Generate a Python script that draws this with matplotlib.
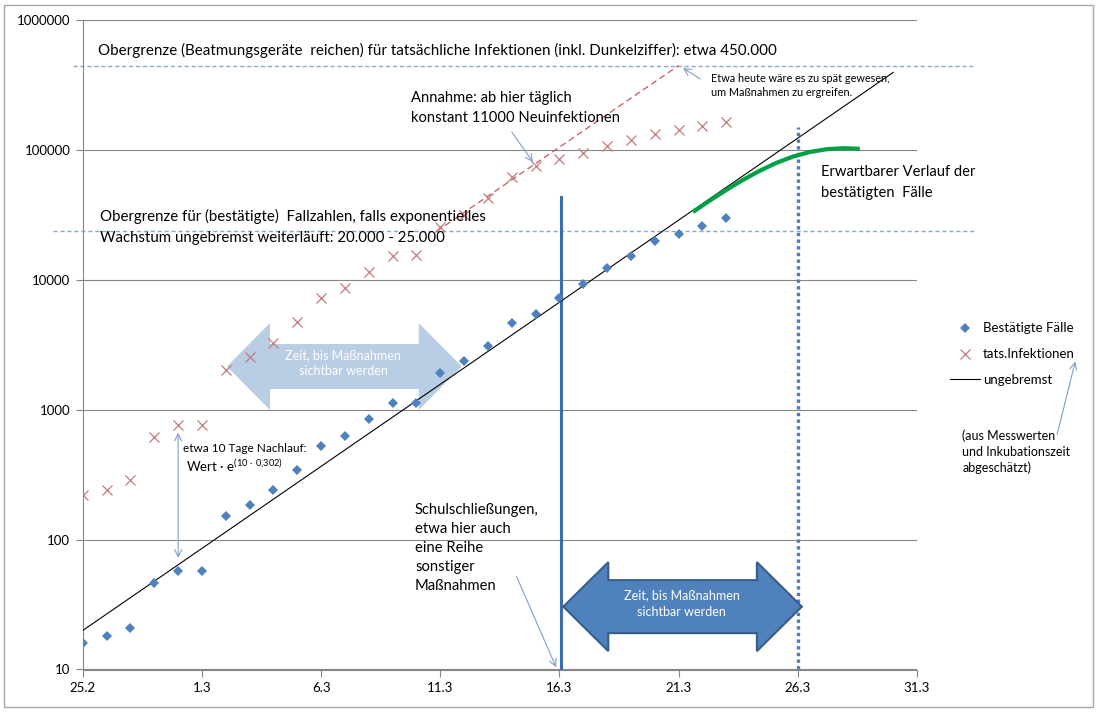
import matplotlib
matplotlib.use('Agg')
import matplotlib.pyplot as plt
from matplotlib.patches import Polygon, Rectangle

plt.rcParams['font.family'] = ['Lato', 'DejaVu Sans']
plt.rcParams['mathtext.fontset'] = 'custom'
plt.rcParams['mathtext.rm'] = 'Lato'

# x axis: days since 25.2.
tick_days = [0, 5, 10, 15, 20, 25, 30, 35]
tick_labels = ['25.2', '1.3', '6.3', '11.3', '16.3', '21.3', '26.3', '31.3']
y_ticks = [10, 100, 1000, 10000, 100000, 1000000]

days = list(range(0, 28))
confirmed = [16, 18, 21, 46, 57, 57, 151, 186, 243, 346, 531, 634, 852, 1132, 1140,
             1930, 2370, 3095, 4640, 5510, 7230, 9380, 12470, 15320, 19990, 22520, 26120, 30090]
infections = [222, 243, 286, 619, 771, 771, 2047, 2564, 3250, 4747, 7310, 8730, 11530, 15310,
              15590, 25800, 31900, 43000, 62800, 75900, 85300, 96100, 108000, 120300, 133000,
              143000, 154000, 165600]

unbraked_days = [0, 34.0]
unbraked_vals = [20, 398000]

assumed_days = [14.85, 25.0]
assumed_vals = [23800, 450000]

expected_days = [25.6, 26.3, 27.0, 27.7, 28.4, 29.1, 29.8, 30.5, 31.2, 31.9, 32.6]
expected_vals = [33500, 40900, 49500, 59200, 69500, 80000, 89500, 97000, 101900, 103800, 102800]

limit_real = 450000
limit_confirmed = 24000
school_day, school_top = 20.05, 43600
visible_day, visible_top = 30.0, 150700

grey = '#868686'
blue = '#4F81BD'
red = '#C95656'
thin = '#7F9FC8'

fig = plt.figure(figsize=(11, 7.12), dpi=100)
ax = fig.add_axes([82.8 / 1100, 1 - 669.5 / 712, (917 - 82.8) / 1100, (669.5 - 20.5) / 712])
ax.set_yscale('log')
ax.set_xlim(0, 35)
ax.set_ylim(10, 1000000)
ax.set_xticks(tick_days)
ax.set_xticklabels(tick_labels)
ax.set_yticks(y_ticks)
ax.set_yticklabels([str(v) for v in y_ticks])
ax.minorticks_off()
ax.tick_params(axis='both', direction='out', length=5, color=grey, labelsize=9.5, pad=4)
ax.grid(axis='y', color=grey, lw=0.8)
ax.set_axisbelow(True)
for s in ['top', 'right']:
    ax.spines[s].set_visible(False)
for s in ['left', 'bottom']:
    ax.spines[s].set_color(grey)


def double_arrow(d0, d1, val, body, head, head_len, **kw):
    x0, y = ax.transData.transform((d0, val))
    x1 = ax.transData.transform((d1, val))[0]
    pts = [(x0, y), (x0 + head_len, y + head), (x0 + head_len, y + body),
           (x1 - head_len, y + body), (x1 - head_len, y + head), (x1, y),
           (x1 - head_len, y - head), (x1 - head_len, y - body),
           (x0 + head_len, y - body), (x0 + head_len, y - head)]
    pts = ax.transAxes.inverted().transform(pts)
    ax.add_patch(Polygon(pts, closed=True, transform=ax.transAxes, **kw))


double_arrow(6.05, 15.9, 2160, 22.5, 43.5, 43, facecolor='#B9CDE5', edgecolor='none', zorder=1)
ax.text(10.92, 2300, 'Zeit, bis Maßnahmen\nsichtbar werden', color='white', fontsize=9,
        ha='center', va='center', linespacing=1.4, zorder=1.2)

# horizontal limits (reach a bit outside the axes)
ax.plot([-0.0117, 1.0695], [limit_real, limit_real], transform=ax.get_yaxis_transform(),
        ls=(0, (3, 2)), color='#8EA6C8', lw=1, clip_on=False)
ax.plot([-0.0357, 1.0695], [limit_confirmed, limit_confirmed], transform=ax.get_yaxis_transform(),
        ls=(0, (3, 2)), color='#8EA6C8', lw=1, clip_on=False)

ax.plot([school_day, school_day], [10, school_top], color='#3D6DAA', lw=2.2, zorder=2)
ax.plot([visible_day, visible_day], [10, visible_top], color='#4A7EBB', lw=2.4, ls=(0, (1, 1)), zorder=2)

double_arrow(20.16, 30.17, 30.5, 26.5, 44.5, 45, facecolor=blue, edgecolor='#385D8A', lw=1.5, zorder=2.5)
ax.text(25.13, 32.2, 'Zeit, bis Maßnahmen\nsichtbar werden', color='white', fontsize=9,
        ha='center', va='center', linespacing=1.4, zorder=2.6)

ax.plot(assumed_days, assumed_vals, color=red, lw=0.9, ls=(0, (5, 3)), zorder=2)
l3, = ax.plot(unbraked_days, unbraked_vals, color='black', lw=0.8, zorder=3, label='ungebremst')
ax.plot(expected_days, expected_vals, color='#00A046', lw=3, zorder=3, solid_capstyle='butt',
        solid_joinstyle='round')
l2, = ax.plot(days, infections, 'x', color='#C07C7A', ms=7.5, mew=0.9, zorder=3, label='tats.Infektionen')
l1, = ax.plot(days, confirmed, 'D', color=blue, ms=5.5, mew=0, zorder=4, label='Bestätigte Fälle')

ax.legend(handles=[l1, l2, l3], loc='upper left', bbox_to_anchor=(950 / 1100, 1 - 322.5 / 712),
          bbox_transform=fig.transFigure, frameon=False, fontsize=9.5, handlelength=2.3,
          handletextpad=0.2, labelspacing=1.04, borderpad=0, borderaxespad=0)

big = 10.6
ax.text(0.64, 586000, 'Obergrenze (Beatmungsgeräte  reichen) für tatsächliche Infektionen (inkl. Dunkelziffer): etwa 450.000',
        fontsize=10.9, va='center')
ax.text(13.77, 211000, 'Annahme: ab hier täglich\nkonstant 11000 Neuinfektionen', fontsize=big,
        va='center', linespacing=1.5)
ax.text(26.36, 316000, 'Etwa heute wäre es zu spät gewesen,\num Maßnahmen zu ergreifen.', fontsize=7.8,
        va='center', linespacing=1.3)
ax.text(0.72, 25600, 'Obergrenze für (bestätigte)  Fallzahlen, falls exponentielles\nWachstum ungebremst weiterläuft: 20.000 - 25.000',
        fontsize=10.8, va='center', linespacing=1.7)
ax.text(30.98, 56800, 'Erwartbarer Verlauf der\nbestätigten  Fälle', fontsize=big, va='center', linespacing=1.65)
ax.text(36.9, 476, '(aus Messwerten\nund Inkubationszeit\nabgeschätzt)', fontsize=9, va='center',
        linespacing=1.4, clip_on=False)
ax.text(4.2, 505, 'etwa 10 Tage Nachlauf:', fontsize=8.5, va='center')
ax.text(4.33, 372, r'Wert · e$^{\mathrm{(10\ ·\ 0{,}302)}}$', fontsize=9.5, va='center')
ax.text(13.94, 86.6, 'Schulschließungen,\netwa hier auch\neine Reihe\nsonstiger\nMaßnahmen', fontsize=big,
        va='center', linespacing=1.45)

arrow = dict(arrowstyle='->,head_length=0.5,head_width=0.25', color=thin, lw=0.8, shrinkA=0, shrinkB=0)
ax.annotate('', xy=(25.18, 430000), xytext=(25.9, 355000), arrowprops=arrow)
ax.annotate('', xy=(18.89, 81000), xytext=(18.0, 138000), arrowprops=arrow)
ax.annotate('', xy=(19.86, 10.4), xytext=(18.2, 52), arrowprops=arrow)
ax.annotate('', xy=(41.64, 2360), xytext=(40.88, 647), arrowprops=arrow, annotation_clip=False)
ax.annotate('', xy=(4.0, 668), xytext=(4.0, 72.4),
            arrowprops=dict(arrowstyle='<->,head_length=0.5,head_width=0.25', color=thin, lw=0.8,
                            shrinkA=0, shrinkB=0))

fig.add_artist(Rectangle((4 / 1100, 5 / 712), 1089 / 1100, 702 / 712, transform=fig.transFigure,
                         fill=False, edgecolor='#A6A6A6', lw=1))

fig.savefig('out.png', dpi=100)
